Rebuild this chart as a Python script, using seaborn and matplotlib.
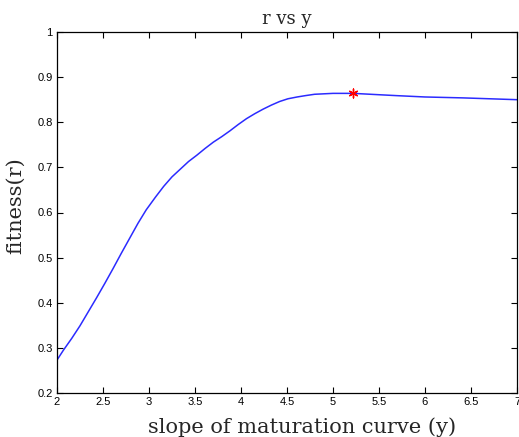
import matplotlib
matplotlib.use("Agg")
import matplotlib.pyplot as plt
import seaborn as sns

slope_y = [2.0, 2.07, 2.16, 2.25, 2.34, 2.43, 2.52, 2.61, 2.70, 2.79, 2.88, 2.97,
           3.07, 3.16, 3.25, 3.34, 3.43, 3.52, 3.61, 3.70, 3.79, 3.88, 3.97, 4.06,
           4.15, 4.24, 4.33, 4.42, 4.51, 4.61, 4.70, 4.80, 4.90, 5.0, 5.22, 5.5,
           5.69, 6.0, 6.41, 7.0]
fitness_r = [0.273, 0.295, 0.321, 0.349, 0.380, 0.411, 0.443, 0.476, 0.510, 0.543,
             0.576, 0.606, 0.634, 0.658, 0.679, 0.696, 0.713, 0.727, 0.742, 0.756,
             0.768, 0.781, 0.795, 0.808, 0.819, 0.829, 0.838, 0.846, 0.852, 0.856,
             0.859, 0.862, 0.863, 0.864, 0.864, 0.861, 0.859, 0.856, 0.854, 0.850]
best_x = [5.22]
best_y = [0.864]
x_ticks = [2, 2.5, 3, 3.5, 4, 4.5, 5, 5.5, 6, 6.5, 7]
x_tick_labels = ["2", "2.5", "3", "3.5", "4", "4.5", "5", "5.5", "6", "6.5", "7"]
y_ticks = [0.2, 0.3, 0.4, 0.5, 0.6, 0.7, 0.8, 0.9, 1.0]
y_tick_labels = ["0.2", "0.3", "0.4", "0.5", "0.6", "0.7", "0.8", "0.9", "1"]

sns.set_style("ticks")
plt.rcParams["font.family"] = ["Liberation Sans", "DejaVu Sans"]

fig = plt.figure(figsize=(5.19, 4.37), dpi=100)
ax = fig.add_axes([57 / 519, 44 / 437, 460 / 519, 361 / 437])

sns.lineplot(x=slope_y, y=fitness_r, ax=ax, color="#2b2bff", linewidth=1.1,
             sort=False, estimator=None)
sns.scatterplot(x=best_x, y=best_y, ax=ax, color="red", marker=(6, 2, 0),
                s=40, linewidth=1.0, edgecolor="red", zorder=5)

ax.set_xlim(2, 7)
ax.set_ylim(0.2, 1.0)
ax.set_xticks(x_ticks)
ax.set_xticklabels(x_tick_labels)
ax.set_yticks(y_ticks)
ax.set_yticklabels(y_tick_labels)
ax.tick_params(direction="in", length=4, width=0.8, labelsize=8, colors="black",
               top=True, right=True, pad=3)
for s in ax.spines.values():
    s.set_visible(True)
    s.set_color("black")
    s.set_linewidth(0.9)

serif = ["DejaVu Serif"]
ax.set_title("r vs y", family=serif, fontsize=13, pad=6)
ax.set_xlabel("slope of maturation curve (y)", family=serif, fontsize=15)
ax.set_ylabel("fitness(r)", family=serif, fontsize=15)
ax.xaxis.set_label_coords(0.533, -0.067)
ax.yaxis.set_label_coords(-0.07, 0.52)

fig.savefig("out.png", dpi=100, facecolor="white")
